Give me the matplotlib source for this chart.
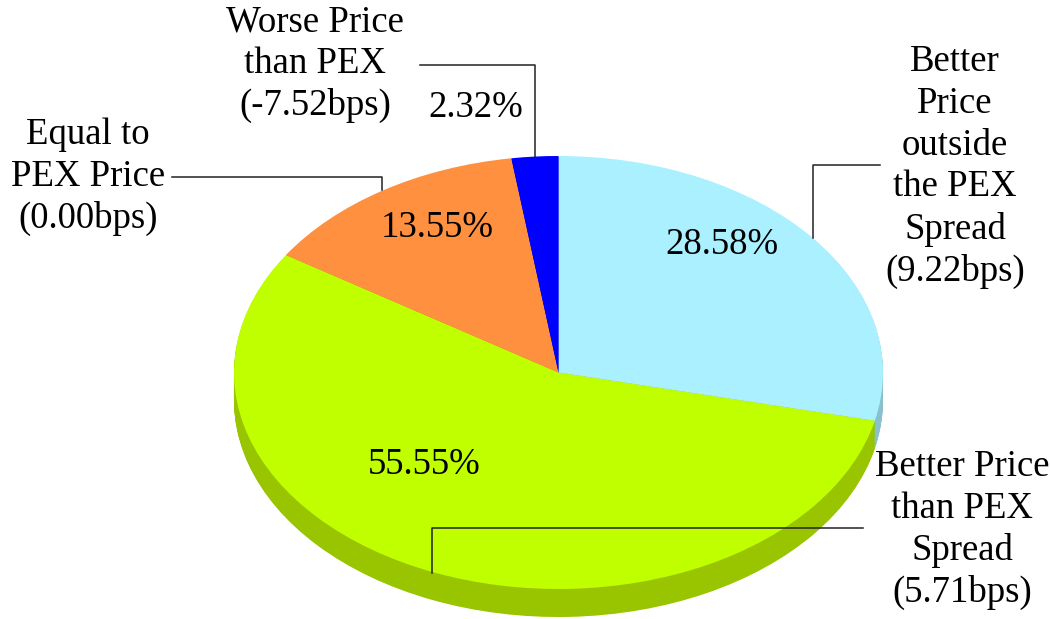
import matplotlib
matplotlib.use("Agg")
import matplotlib.pyplot as plt
import numpy as np

# slice values (percent), clockwise from 12 o'clock
shares = [28.58, 55.55, 13.55, 2.32]
top_colors = ["#aaf0ff", "#c0ff00", "#ff9040", "#0000ff"]
side_colors = ["#88c0cc", "#99c400", "#cc7030", "#0000b0"]
names = [
    "Better\nPrice\noutside\nthe PEX\nSpread\n(9.22bps)",
    "Better Price\nthan PEX\nSpread\n(5.71bps)",
    "Equal to\nPEX Price\n(0.00bps)",
    "Worse Price\nthan PEX\n(-7.52bps)",
]

# layout in pixels of the 1050x619 canvas
W, H = 1050, 619
CX, CY = 558.5, 372.5     # centre of the top face
RX, RY = 324.5, 216.5     # ellipse radii
DEPTH = 28                # thickness of the pie side

pct_pos = [(722, 245), (424, 465), (437, 228), (476, 108)]
name_pos = [(955, 167), (962, 530), (88, 177), (315, 64)]
leaders = [
    [(880, 165), (813, 165), (813, 238)],
    [(863, 528), (432, 528), (432, 573)],
    [(172, 177), (382, 177), (382, 190)],
    [(420, 65), (535, 65), (535, 157)],
]


def px(x, y):
    return (x - CX) / RX, (CY - y) / RY


FONT = "Liberation Serif"
FS = 26.5

fig = plt.figure(figsize=(W / 100, H / 100), dpi=100)
ax = fig.add_axes([0, 0, 1, 1])

# side of the pie: stacked layers from the bottom up
for t in np.arange(DEPTH, 0, -1):
    ax.pie(shares, startangle=90, counterclock=False, colors=side_colors,
           center=(0, -t / RY), radius=1,
           wedgeprops=dict(linewidth=0, antialiased=True))

# top face
ax.pie(shares, startangle=90, counterclock=False, colors=top_colors,
       center=(0, 0), radius=1, wedgeprops=dict(linewidth=0))

ax.set_aspect("auto")
ax.set_xlim(px(0, 0)[0], px(W, 0)[0])
ax.set_ylim(px(0, H)[1], px(0, 0)[1])
ax.axis("off")

for line in leaders:
    pts = [px(x, y) for x, y in line]
    ax.plot([p[0] for p in pts], [p[1] for p in pts], color="#222222", lw=1.1)

for v, (x, y) in zip(shares, pct_pos):
    ax.text(*px(x, y), f"{v:.2f}%", ha="center", va="center",
            fontsize=FS, family=FONT, color="black")

for s, (x, y) in zip(names, name_pos):
    ax.text(*px(x, y), s, ha="center", va="center", multialignment="center",
            linespacing=1.27, fontsize=FS, family=FONT, color="black")

fig.savefig("out.png", dpi=100)
